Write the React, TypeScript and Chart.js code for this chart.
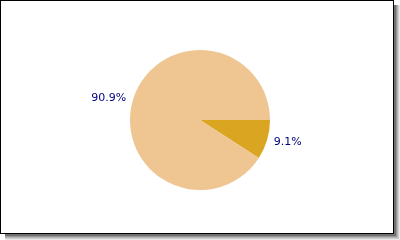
import React, { useEffect, useRef } from "react";
import { Chart, registerables } from "chart.js";

Chart.register(...registerables);

const categories = ["A", "B"];
const values = [9.1, 90.9];
const sliceColors = ["#DAA520", "#EFC591"];
const labelColor = "#000080";

// Framed panel with a soft drop shadow on the right and bottom
const framePlugin = {
  id: "frame",
  beforeDraw(chart: any) {
    const ctx = chart.ctx;
    const W = chart.width;
    const H = chart.height;
    const shades = ["#e8e8e8", "#d0d0d0", "#b4b4b4", "#989898", "#707070"];
    ctx.save();
    ctx.fillStyle = "#ffffff";
    ctx.fillRect(0, 0, W, H);
    for (let k = shades.length - 1; k >= 0; k--) {
      ctx.fillStyle = shades[shades.length - 1 - k];
      ctx.fillRect(5, 5, W - 5 - (shades.length - 1 - k), H - 5 - (shades.length - 1 - k));
    }
    const bw = W - 6;
    const bh = H - 6;
    ctx.fillStyle = "#ffffff";
    ctx.fillRect(0, 0, bw, bh);
    ctx.strokeStyle = "#000000";
    ctx.lineWidth = 1;
    ctx.strokeRect(0.5, 0.5, bw - 1, bh - 1);
    ctx.restore();
  },
};

// Percentage labels placed just outside each slice
const outerLabelPlugin = {
  id: "outerLabels",
  afterDatasetsDraw(chart: any) {
    const ctx = chart.ctx;
    const meta = chart.getDatasetMeta(0);
    const data = chart.data.datasets[0].data as number[];
    const total = data.reduce((a, b) => a + b, 0);
    ctx.save();
    ctx.font = "11px 'DejaVu Sans'";
    ctx.fillStyle = labelColor;
    ctx.textBaseline = "middle";
    meta.data.forEach((arc: any, i: number) => {
      const mid = (arc.startAngle + arc.endAngle) / 2;
      const r = arc.outerRadius * 1.1;
      const x = arc.x + Math.cos(mid) * r;
      const y = arc.y + Math.sin(mid) * r;
      ctx.textAlign = Math.cos(mid) >= 0 ? "left" : "right";
      ctx.fillText(((data[i] / total) * 100).toFixed(1) + "%", x, y);
    });
    ctx.restore();
  },
};

export default function App() {
  const canvasRef = useRef<HTMLCanvasElement | null>(null);

  useEffect(() => {
    if (!canvasRef.current) return;
    const chart = new Chart(canvasRef.current, {
      type: "pie",
      data: {
        labels: categories,
        datasets: [
          {
            data: values,
            backgroundColor: sliceColors,
            borderWidth: 0,
          },
        ],
      },
      options: {
        responsive: false,
        animation: false,
        rotation: 90,
        layout: { padding: { top: 50, bottom: 50, left: 0, right: 0 } },
        plugins: {
          legend: { display: false },
          tooltip: { enabled: false },
        },
      },
      plugins: [framePlugin, outerLabelPlugin],
    });
    return () => chart.destroy();
  }, []);

  return (
    <div style={{ position: "absolute", left: 0, top: 0, width: 400, height: 240 }}>
      <canvas ref={canvasRef} width={400} height={240} style={{ display: "block" }} />
    </div>
  );
}
